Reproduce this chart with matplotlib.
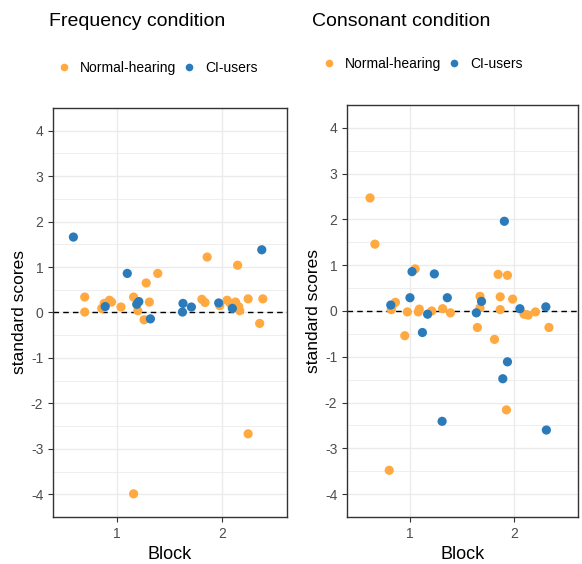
import matplotlib
matplotlib.use("Agg")
import matplotlib.pyplot as plt
from matplotlib.lines import Line2D

plt.rcParams['font.family'] = ['Liberation Sans', 'DejaVu Sans']
plt.rcParams['axes.unicode_minus'] = False

# Frequency condition: (jittered block position, standard score)
freq_nh_x = [0.695, 0.695, 0.857, 0.88, 0.93, 0.95, 1.04, 1.16, 1.20, 1.28, 1.26, 1.31,
             1.39, 1.81, 1.84, 1.86, 1.98, 2.05, 2.08, 2.13, 2.15, 2.16, 2.17, 2.25,
             2.39, 2.36, 1.16, 2.25]
freq_nh_y = [0.34, 0.01, 0.09, 0.20, 0.27, 0.23, 0.12, 0.34, 0.04, 0.65, -0.16, 0.23,
             0.86, 0.29, 0.22, 1.22, 0.15, 0.27, 0.20, 0.23, 1.04, 0.13, 0.04, 0.30,
             0.30, -0.24, -3.99, -2.67]
freq_ci_x = [0.587, 1.10, 1.19, 1.21, 1.32, 1.63, 1.625, 1.71, 1.97, 2.10, 2.38, 0.89]
freq_ci_y = [1.66, 0.86, 0.18, 0.24, -0.14, 0.20, 0.01, 0.12, 0.21, 0.09, 1.38, 0.13]

# Consonant condition
cons_nh_x = [0.615, 0.662, 0.82, 0.83, 0.86, 0.975, 1.05, 1.08, 1.09, 1.21, 1.315, 1.39,
             1.675, 1.675, 1.65, 1.85, 1.94, 1.87, 1.87, 1.99, 2.10, 2.14, 2.21, 2.34,
             0.95, 1.815, 1.93, 0.80]
cons_nh_y = [2.47, 1.46, 0.03, 0.12, 0.19, -0.02, 0.92, -0.02, 0.04, 0.00, 0.05, -0.04,
             0.32, 0.07, -0.36, 0.80, 0.78, 0.31, 0.03, 0.26, -0.07, -0.09, -0.02, -0.36,
             -0.54, -0.62, -2.16, -3.48]
cons_ci_x = [0.815, 1.00, 1.02, 1.12, 1.17, 1.235, 1.36, 1.64, 1.69, 1.91, 2.06, 2.31,
             1.31, 1.895, 1.94, 2.315]
cons_ci_y = [0.13, 0.29, 0.86, -0.47, -0.07, 0.81, 0.29, -0.04, 0.21, 1.96, 0.05, 0.09,
             -2.41, -1.48, -1.11, -2.60]

blocks = [1, 2]
groups = ["Normal-hearing", "CI-users"]
colors = ["#FFA940", "#2B7BBA"]

W, H = 582, 564
fig = plt.figure(figsize=(W / 100, H / 100), dpi=100)


def panel(rect, title, title_xy, legend_xy, nh, ci):
    l, t, r, b = rect
    ax = fig.add_axes([l / W, 1 - b / H, (r - l) / W, (b - t) / H])
    ax.set_xlim(0.393, 2.62)
    ax.set_ylim(-4.39, 4.39)
    ax.set_yticks(range(-4, 5))
    ax.set_yticks([v + 0.5 for v in range(-5, 5)], minor=True)
    ax.set_xticks(blocks)
    ax.grid(True, which='major', color='#EBEBEB', lw=1.0)
    ax.grid(True, which='minor', axis='y', color='#EBEBEB', lw=0.6)
    ax.tick_params(which='minor', length=0)
    ax.tick_params(which='major', length=3.5, width=0.8, color='#333333',
                   labelcolor='#4D4D4D', labelsize=10)
    ax.set_axisbelow(True)
    for s in ax.spines.values():
        s.set_color('#333333')
        s.set_linewidth(1.0)
    ax.axhline(0, color='black', lw=1.0, ls=(0, (4, 3)), zorder=2)
    ax.scatter(nh[0], nh[1], s=44, color=colors[0], edgecolors='none', zorder=3)
    ax.scatter(ci[0], ci[1], s=44, color=colors[1], edgecolors='none', zorder=3)
    ax.set_xlabel("Block", fontsize=13, labelpad=4)
    ax.set_ylabel("standard scores", fontsize=12.5, labelpad=3)
    fig.text(title_xy[0] / W, 1 - title_xy[1] / H, title, fontsize=14,
             ha='left', va='center')
    handles = [Line2D([], [], ls='none', marker='o', ms=5.5, color=c,
                      markeredgewidth=0) for c in colors]
    fig.legend(handles, groups, loc='center left',
               bbox_to_anchor=(legend_xy[0] / W, 1 - legend_xy[1] / H),
               ncol=2, frameon=False, fontsize=10, handlelength=0.8,
               handletextpad=0.8, columnspacing=0.5, borderpad=0, borderaxespad=0)
    return ax


panel((53, 108, 287, 517), "Frequency condition", (49, 22), (58, 68),
      (freq_nh_x, freq_nh_y), (freq_ci_x, freq_ci_y))
panel((347, 105, 578, 517), "Consonant condition", (312, 22), (323, 64),
      (cons_nh_x, cons_nh_y), (cons_ci_x, cons_ci_y))

fig.savefig("out.png", dpi=100, facecolor='white')
